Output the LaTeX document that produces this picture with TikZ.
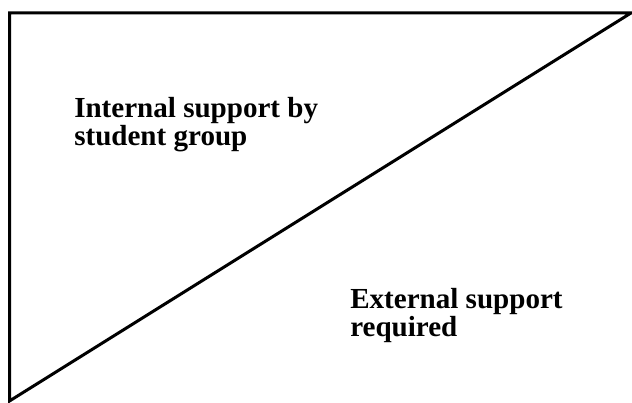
\documentclass[tikz,border=0pt]{standalone}
\usepackage{fontspec}
\setmainfont{Liberation Serif}

\begin{document}
\begin{tikzpicture}[
  x=0.75pt, y=0.75pt,
  edge/.style={draw, line width=2.25pt, line join=miter},
  lbl/.style={align=left, inner sep=0pt, anchor=base west, font=\fontsize{21.8}{21}\selectfont\bfseries}
]
  \useasboundingbox (0,0) rectangle (632,403);
  \coordinate (tl) at (9.5,390);
  \coordinate (tr) at (631,390);
  \coordinate (bl) at (9.5,2);
  \draw[edge] (bl) -- (tl) -- (tr) -- cycle;

  \node[lbl] (internal) at (74,257) {Internal support by\\student group};
  \node[lbl] (external) at (350,66) {External support\\required};
\end{tikzpicture}
\end{document}
